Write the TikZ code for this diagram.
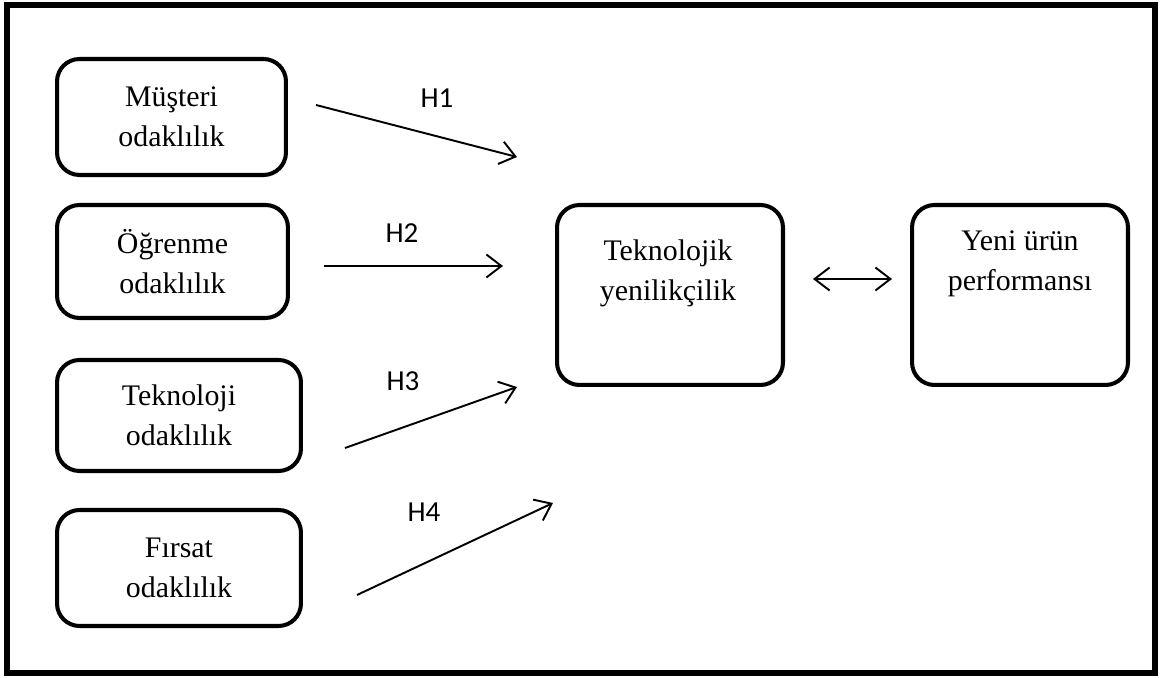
\documentclass[tikz,border=0pt]{standalone}
\usepackage{fontspec}
\setmainfont{Liberation Serif}
\newfontfamily\hfont{Carlito}
\usetikzlibrary{arrows.meta}

\begin{document}
\begin{tikzpicture}[x=0.02cm, y=-0.02cm, >={Straight Barb[length=0.3cm,width=0.46cm]},
  kutu/.style={draw, line width=2.3pt, rounded corners=0.45cm, align=center,
    inner sep=0pt, font=\fontsize{17}{22.7}\selectfont},
  metin/.style={align=center, inner sep=0pt, font=\fontsize{17}{22.7}\selectfont},
  hok/.style={line width=1.1pt, ->},
  hlbl/.style={font=\hfont\fontsize{16.5}{18}\selectfont}]
  % 1164 x 678 px, 1 px = 0.02 cm, y downwards
  \useasboundingbox (0,0) rectangle (1164,678);

  % outer frame
  \draw[line width=3pt] (7,5) rectangle (1155,673);

  % left-hand boxes (orientations)
  \foreach \nm/\cx/\cy/\w/\h/\txt in {
      mus/171.5/117/4.58/2.32/{Müşteri\\odaklılık},
      ogr/172.5/261.5/4.62/2.26/{Öğrenme\\odaklılık},
      tekn/179/415.5/4.88/2.22/{Teknoloji\\odaklılık},
      fir/179/568/4.88/2.32/{Fırsat\\odaklılık}}
    \node[kutu, minimum width=\w cm, minimum height=\h cm] (\nm) at (\cx,\cy) {\txt};

  % right-hand boxes
  \node[kutu, minimum width=4.52cm, minimum height=3.6cm] (tin) at (670,295) {};
  \node[metin] (tinlbl) at (668,273) {Teknolojik\\yenilikçilik};
  \node[kutu, minimum width=4.32cm, minimum height=3.6cm] (yeni) at (1020,295) {};
  \node[metin] (yenilbl) at (1020,264) {Yeni ürün\\performansı};

  % hypotheses H1--H4
  \foreach \i/\ax/\ay/\bx/\by/\lx/\ly in {
      1/316/105/517/157/437/98,
      2/324/266/503/266/402/233,
      3/345/448/517/387/403/381,
      4/357/595/553/503/424/512} {
    \coordinate (s\i) at (\ax,\ay);
    \coordinate (e\i) at (\bx,\by);
    \draw[hok] (s\i) -- (e\i);
    \node[hlbl] (h\i) at (\lx,\ly) {H\i};
  }

  % two-way link
  \draw[hok, <->, shorten <=0.56cm, shorten >=0.36cm]
    ([yshift=0.32cm]tin.east) -- ([yshift=0.32cm]yeni.west);
\end{tikzpicture}
\end{document}
